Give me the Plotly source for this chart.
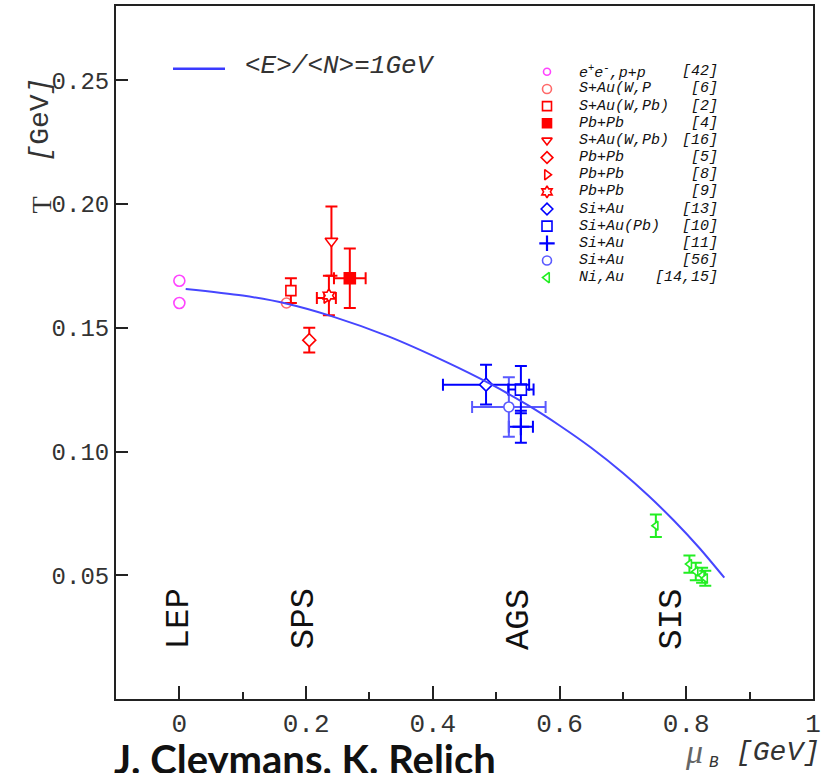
import plotly.graph_objects as go

# ---------------- data ----------------
curve_mu = [0.01, 0.10, 0.17, 0.24, 0.33, 0.42, 0.49, 0.55, 0.60, 0.65, 0.70, 0.74, 0.78, 0.82, 0.86]
curve_T = [0.1657, 0.1630, 0.1597, 0.1547, 0.1465, 0.1363, 0.1274, 0.1187, 0.1105, 0.1015, 0.0913, 0.0822, 0.0722, 0.0612, 0.0490]

lep_mu = [0.0, 0.0]
lep_T = [0.169, 0.160]

sau6_mu = [0.169]
sau6_T = [0.160]

sau2_mu = [0.176]
sau2_T = [0.165]
sau2_eT = [0.005]

pbpb4_mu = [0.269]
pbpb4_T = [0.170]
pbpb4_emu = [0.025]
pbpb4_eT = [0.012]

sau16_mu = [0.240]
sau16_T = [0.185]
sau16_eT = [0.014]

pbpb5_mu = [0.205]
pbpb5_T = [0.145]
pbpb5_eT = [0.005]

pbpb8_mu = [0.232]
pbpb8_T = [0.162]
pbpb8_emu = [0.015]

pbpb9_mu = [0.236]
pbpb9_T = [0.163]
pbpb9_eT = [0.008]

siau13_mu = [0.484]
siau13_T = [0.127]
siau13_emu = [0.068]
siau13_eT = [0.008]

siau56_mu = [0.520]
siau56_T = [0.118]
siau56_emu = [0.058]
siau56_eT = [0.012]

siau10_mu = [0.539]
siau10_T = [0.125]
siau10_emu = [0.020]
siau10_eT = [0.0095]

siau11_mu = [0.539]
siau11_T = [0.110]
siau11_emu = [0.019]
siau11_eT = [0.0065]

niau_mu = [0.752, 0.805, 0.815, 0.825, 0.830]
niau_T = [0.070, 0.0545, 0.0515, 0.0500, 0.0488]
niau_eT = [0.0045, 0.0035, 0.0035, 0.003, 0.003]

accel_labels = ["LEP", "SPS", "AGS", "SIS"]
accel_mu = [0.0, 0.197, 0.536, 0.777]
accel_T = [0.0323, 0.0323, 0.0323, 0.0323]

x_tickvals = [0, 0.2, 0.4, 0.6, 0.8, 1.0]
x_ticktext = ["0", "0.2", "0.4", "0.6", "0.8", "1"]
x_minorvals = [-0.1, 0.1, 0.3, 0.5, 0.7, 0.9]
y_tickvals = [0.05, 0.10, 0.15, 0.20, 0.25]
y_ticktext = ["0.05", "0.10", "0.15", "0.20", "0.25"]

legend_names = ["e<sup>+</sup>e<sup>-</sup>,p+p", "S+Au(W,P", "S+Au(W,Pb)", "Pb+Pb", "S+Au(W,Pb)",
                "Pb+Pb", "Pb+Pb", "Pb+Pb", "Si+Au", "Si+Au(Pb)", "Si+Au", "Si+Au", "Ni,Au"]
legend_refs = ["[42]", "[6]", "[2]", "[4]", "[16]", "[5]", "[8]", "[9]", "[13]", "[10]", "[11]", "[56]", "[14,15]"]

# ---------------- styles ----------------
RED = "#ff0000"
LRED = "#ff6a6a"
BLUE = "#0000ff"
LBLUE = "#5a5aff"
MAG = "#ff44ff"
GREEN = "#22ee22"
WHITE = "white"
MONO = "Liberation Mono"
TXT = "#111111"

W, H = 833, 773
ML, MR, MT, MB = 116, 20, 4, 74
PW, PH = W - ML - MR, H - MT - MB


def px(xp):
    return (xp - ML) / PW


def py(yp):
    return (H - MB - yp) / PH


# style per legend entry: (symbol, fill, line color, size)
leg_styles = [
    ("circle", WHITE, MAG, 8),
    ("circle", WHITE, LRED, 10),
    ("square", WHITE, RED, 10),
    ("square", RED, RED, 10),
    ("triangle-down", WHITE, RED, 10),
    ("diamond", WHITE, RED, 10),
    ("triangle-right", WHITE, RED, 10),
    ("hexagram", WHITE, RED, 10),
    ("diamond", WHITE, BLUE, 10),
    ("square", WHITE, BLUE, 11),
    ("cross-thin", BLUE, BLUE, 12),
    ("circle", WHITE, LBLUE, 10),
    ("triangle-left", WHITE, GREEN, 10),
]

fig = go.Figure()


def err(arr, color):
    if arr is None:
        return None
    return dict(type="data", array=arr, color=color, thickness=2, width=6, visible=True)


def add_pts(mu, T, style, emu=None, eT=None):
    sym, fill, col, size = style
    fig.add_trace(go.Scatter(
        x=mu, y=T, mode="markers",
        marker=dict(symbol=sym, color=fill, size=size, line=dict(color=col, width=1.6 if sym != "cross-thin" else 2.2)),
        error_x=err(emu, col), error_y=err(eT, col),
        showlegend=False, hoverinfo="x+y", cliponaxis=False,
    ))


add_pts(lep_mu, lep_T, ("circle", WHITE, MAG, 11))
add_pts(sau6_mu, sau6_T, ("circle", WHITE, LRED, 10))
add_pts(sau2_mu, sau2_T, ("square", WHITE, RED, 10), eT=sau2_eT)
add_pts(pbpb5_mu, pbpb5_T, ("diamond", WHITE, RED, 10), eT=pbpb5_eT)
add_pts(pbpb8_mu, pbpb8_T, ("triangle-right", WHITE, RED, 9), emu=pbpb8_emu)
add_pts(pbpb9_mu, pbpb9_T, ("hexagram", WHITE, RED, 10), eT=pbpb9_eT)
add_pts(sau16_mu, sau16_T, ("triangle-down", WHITE, RED, 11), eT=sau16_eT)
add_pts(pbpb4_mu, pbpb4_T, ("square", RED, RED, 11), emu=pbpb4_emu, eT=pbpb4_eT)
add_pts(siau11_mu, siau11_T, ("cross-thin", BLUE, BLUE, 12), emu=siau11_emu, eT=siau11_eT)
add_pts(siau56_mu, siau56_T, ("circle", WHITE, LBLUE, 10), emu=siau56_emu, eT=siau56_eT)
add_pts(siau10_mu, siau10_T, ("square", WHITE, BLUE, 11), emu=siau10_emu, eT=siau10_eT)
add_pts(siau13_mu, siau13_T, ("diamond", WHITE, BLUE, 10), emu=siau13_emu, eT=siau13_eT)
add_pts(niau_mu, niau_T, ("triangle-left", WHITE, GREEN, 8), eT=niau_eT)

# freeze-out curve
fig.add_trace(go.Scatter(
    x=curve_mu, y=curve_T, mode="lines", line=dict(color="#4646ff", width=2, shape="spline", smoothing=0.8),
    showlegend=False, hoverinfo="skip",
))

# legend keys drawn on a pixel-mapped overlay axis pair
LEG_X, LEG_TX, LEG_RX, LEG_Y0, LEG_DY = 547, 577, 720, 70, 17.2
for i, st in enumerate(leg_styles):
    sym, fill, col, size = st
    fig.add_trace(go.Scatter(
        x=[LEG_X], y=[LEG_Y0 + i * LEG_DY], xaxis="x2", yaxis="y2", mode="markers",
        marker=dict(symbol=sym, color=fill, size=size - 1, line=dict(color=col, width=1.6 if sym != "cross-thin" else 2.2)),
        showlegend=False, hoverinfo="skip", cliponaxis=False,
    ))

annotations = []
for i, (nm, rf) in enumerate(zip(legend_names, legend_refs)):
    yy = LEG_Y0 + i * LEG_DY
    annotations.append(dict(x=px(LEG_TX), y=py(yy), xref="paper", yref="paper", text="<i>" + nm + "</i>",
                            showarrow=False, xanchor="left", yanchor="middle",
                            font=dict(family=MONO, size=15, color=TXT)))
    annotations.append(dict(x=px(LEG_RX), y=py(yy), xref="paper", yref="paper", text="<i>" + rf + "</i>",
                            showarrow=False, xanchor="right", yanchor="middle",
                            font=dict(family=MONO, size=15, color=TXT)))

# curve legend
annotations.append(dict(x=px(243), y=py(64), xref="paper", yref="paper", text="<i>&lt;E&gt;/&lt;N&gt;=1GeV</i>",
                        showarrow=False, xanchor="left", yanchor="middle",
                        font=dict(family=MONO, size=26, color="#333333")))

# accelerator labels
for lab, m, t in zip(accel_labels, accel_mu, accel_T):
    annotations.append(dict(x=m, y=t, xref="x", yref="y", text=lab, textangle=-90, showarrow=False,
                            xanchor="center", yanchor="middle", font=dict(family=MONO, size=34, color=TXT)))

# axis titles
annotations.append(dict(x=px(41), y=py(204), xref="paper", yref="paper", text="T", textangle=-90, showarrow=False,
                        xanchor="center", yanchor="middle",
                        font=dict(family="Liberation Serif", size=28, color="#333333")))
annotations.append(dict(x=px(41), y=py(118), xref="paper", yref="paper", text="<i>[</i>GeV<i>]</i>", textangle=-90,
                        showarrow=False, xanchor="center", yanchor="middle",
                        font=dict(family=MONO, size=28, color="#333333")))
annotations.append(dict(x=px(694), y=py(752), xref="paper", yref="paper", text="<i>μ</i>", showarrow=False,
                        xanchor="center", yanchor="middle",
                        font=dict(family="Liberation Serif", size=34, color="#666666")))
annotations.append(dict(x=px(714), y=py(763), xref="paper", yref="paper", text="<i>B</i>", showarrow=False,
                        xanchor="center", yanchor="middle",
                        font=dict(family=MONO, size=16, color="#333333")))
annotations.append(dict(x=px(778), y=py(753), xref="paper", yref="paper", text="<i>[GeV]</i>", showarrow=False,
                        xanchor="center", yanchor="middle",
                        font=dict(family=MONO, size=28, color="#333333")))
annotations.append(dict(x=px(305), y=py(759), xref="paper", yref="paper", text="<b>J. Cleymans, K. Relich</b>",
                        showarrow=False, xanchor="center", yanchor="middle",
                        font=dict(family="Lato", size=40, color="#111111")))

shapes = [dict(type="line", xref="paper", yref="paper", x0=px(173), x1=px(225), y0=py(67), y1=py(67),
               line=dict(color="#3a3aff", width=2.5))]

axis_common = dict(showline=True, linecolor="#222222", linewidth=2, mirror=True, ticks="inside",
                   tickcolor="#222222", tickwidth=1.5, showgrid=False, zeroline=False, fixedrange=True)

fig.update_layout(
    width=W, height=H,
    margin=dict(l=ML, r=MR, t=MT, b=MB),
    paper_bgcolor="white", plot_bgcolor="white",
    xaxis=dict(range=[-0.1, 1.0], tickvals=x_tickvals, ticktext=x_ticktext, ticklen=13,
               tickfont=dict(family=MONO, size=26, color="#333333"),
               minor=dict(tickvals=x_minorvals, ticks="inside", ticklen=7, tickcolor="#222222", tickwidth=1.5),
               **axis_common),
    yaxis=dict(range=[0, 0.28], tickvals=y_tickvals, ticktext=y_ticktext, ticklen=12,
               tickfont=dict(family=MONO, size=24, color="#333333"), **axis_common),
    xaxis2=dict(overlaying="x", range=[ML, W - MR], visible=False, fixedrange=True),
    yaxis2=dict(overlaying="y", range=[H - MB, MT], visible=False, fixedrange=True),
    annotations=annotations,
    shapes=shapes,
    showlegend=False,
)

fig.write_html("out.html")
